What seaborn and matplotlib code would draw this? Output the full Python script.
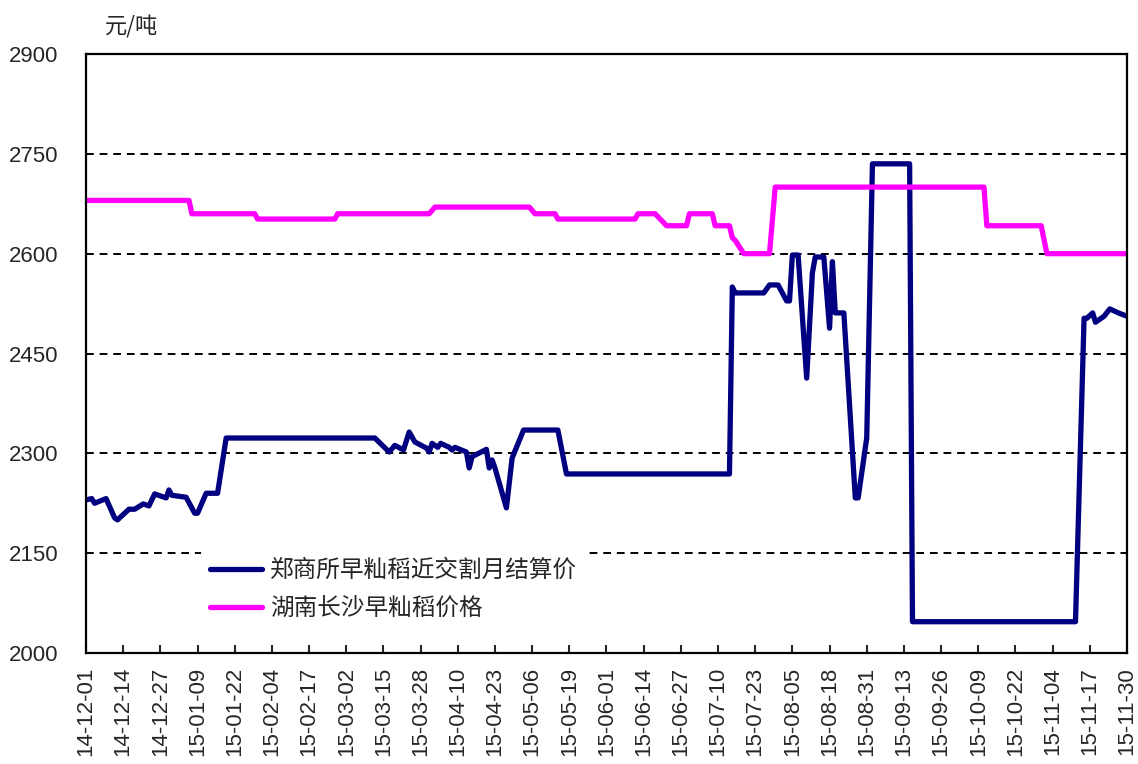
import pandas as pd
import matplotlib
matplotlib.use('Agg')
import matplotlib.pyplot as plt
import matplotlib.dates as mdates
import seaborn as sns

# ------------------------------------------------------------------
# DATOS
# ------------------------------------------------------------------
zce_dates = ['2014-12-01', '2014-12-03', '2014-12-04', '2014-12-08', '2014-12-11',
             '2014-12-12', '2014-12-16', '2014-12-18', '2014-12-21', '2014-12-23',
             '2014-12-25', '2014-12-29', '2014-12-30', '2014-12-31', '2015-01-05',
             '2015-01-08', '2015-01-09', '2015-01-12', '2015-01-16', '2015-01-19',
             '2015-03-12', '2015-03-17', '2015-03-19', '2015-03-22', '2015-03-24',
             '2015-03-26', '2015-03-30', '2015-03-31', '2015-04-01', '2015-04-03',
             '2015-04-04', '2015-04-07', '2015-04-08', '2015-04-09', '2015-04-13',
             '2015-04-14', '2015-04-15', '2015-04-20', '2015-04-21', '2015-04-22',
             '2015-04-23', '2015-04-27', '2015-04-29', '2015-05-03', '2015-05-15',
             '2015-05-18', '2015-07-14', '2015-07-15', '2015-07-16', '2015-07-26',
             '2015-07-28', '2015-07-31', '2015-08-03', '2015-08-04', '2015-08-05',
             '2015-08-07', '2015-08-10', '2015-08-12', '2015-08-13', '2015-08-16',
             '2015-08-18', '2015-08-19', '2015-08-20', '2015-08-23', '2015-08-27',
             '2015-08-28', '2015-08-31', '2015-09-02', '2015-09-15', '2015-09-16',
             '2015-11-12', '2015-11-15', '2015-11-16', '2015-11-18', '2015-11-19',
             '2015-11-22', '2015-11-24', '2015-11-27', '2015-11-30']
zce_values = [2230, 2232, 2225, 2232, 2203,
              2200, 2216, 2216, 2224, 2221,
              2239, 2233, 2245, 2237, 2234,
              2210, 2210, 2240, 2240, 2323,
              2323, 2302, 2312, 2305, 2332,
              2317, 2308, 2302, 2315, 2309,
              2315, 2309, 2305, 2309, 2302,
              2278, 2295, 2306, 2278, 2290,
              2278, 2218, 2293, 2335, 2335,
              2269, 2269, 2550, 2541, 2541,
              2553, 2553, 2529, 2529, 2598,
              2598, 2413, 2571, 2595, 2595,
              2488, 2588, 2511, 2511, 2233,
              2233, 2323, 2735, 2735, 2047,
              2047, 2503, 2503, 2511, 2497,
              2506, 2517, 2511, 2506]

hunan_dates = ['2014-12-01', '2015-01-06', '2015-01-07', '2015-01-29', '2015-01-30',
               '2015-02-26', '2015-02-27', '2015-03-31', '2015-04-02', '2015-05-05',
               '2015-05-07', '2015-05-14', '2015-05-15', '2015-06-11', '2015-06-12',
               '2015-06-18', '2015-06-22', '2015-06-29', '2015-06-30', '2015-07-08',
               '2015-07-09', '2015-07-14', '2015-07-15', '2015-07-16', '2015-07-19',
               '2015-07-28', '2015-07-30', '2015-10-11', '2015-10-12', '2015-10-31',
               '2015-11-02', '2015-11-30']
hunan_values = [2680, 2680, 2660, 2660, 2652,
                2652, 2660, 2660, 2670, 2670,
                2660, 2660, 2652, 2652, 2660,
                2660, 2642, 2642, 2660, 2660,
                2642, 2642, 2624, 2620, 2600,
                2600, 2700, 2700, 2642, 2642,
                2600, 2600]

series_names = ['郑商所早籼稻近交割月结算价', '湖南长沙早籼稻价格']
series_colors = ['#000080', '#FF00FF']
y_ticks = [2000, 2150, 2300, 2450, 2600, 2750, 2900]
y_unit = '元/吨'

# ------------------------------------------------------------------
# ESTILO
# ------------------------------------------------------------------
sns.set_style('white')
plt.rcParams['font.family'] = ['Liberation Sans', 'Noto Sans CJK SC', 'DejaVu Sans']

df = pd.concat([
    pd.DataFrame({'fecha': pd.to_datetime(zce_dates), 'precio': zce_values,
                  'serie': series_names[0]}),
    pd.DataFrame({'fecha': pd.to_datetime(hunan_dates), 'precio': hunan_values,
                  'serie': series_names[1]}),
], ignore_index=True)

fig = plt.figure(figsize=(11.38, 7.64), dpi=100)
ax = fig.add_axes([0.0756, 0.1453, 0.9147, 0.784])

sns.lineplot(data=df, x='fecha', y='precio', hue='serie',
             hue_order=series_names, palette=series_colors,
             linewidth=3.8, ax=ax, sort=True, estimator=None)

# rejilla discontinua solo en las líneas interiores
for yv in y_ticks[1:-1]:
    ax.axhline(yv, color='black', linestyle=(0, (4, 3)), linewidth=1.4, zorder=0)

ax.set_ylim(y_ticks[0], y_ticks[-1])
ax.set_yticks(y_ticks)
ax.set_xlim(pd.Timestamp('2014-12-01'), pd.Timestamp('2015-11-30'))
x_ticks = pd.date_range('2014-12-01', '2015-11-30', freq='13D')
ax.set_xticks(x_ticks)
ax.xaxis.set_major_formatter(mdates.DateFormatter('%y-%m-%d'))

ax.tick_params(axis='x', direction='in', length=6, width=1.5, rotation=90,
               labelsize=16, pad=10, bottom=True)
ax.tick_params(axis='y', length=0, labelsize=16, pad=20)
for lbl in ax.get_xticklabels():
    lbl.set_va('top')

for sp in ax.spines.values():
    sp.set_visible(True)
    sp.set_color('black')
    sp.set_linewidth(1.6)

ax.set_xlabel('')
ax.set_ylabel('')
fig.text(0.092, 0.965, y_unit, fontsize=16, ha='left', va='center',
         family=['Noto Sans CJK SC', 'DejaVu Sans'])

leg = ax.legend(loc='upper left', bbox_to_anchor=(0.110, 0.173), frameon=True,
                fontsize=17, handlelength=2.2, handletextpad=0.35,
                labelspacing=0.64, borderpad=0.4, borderaxespad=0)
leg.get_frame().set_facecolor('white')
leg.get_frame().set_edgecolor('none')
leg.get_frame().set_alpha(1)
for t in leg.get_texts():
    t.set_family(['Noto Sans CJK SC', 'DejaVu Sans'])

fig.savefig('out.png', dpi=100)
